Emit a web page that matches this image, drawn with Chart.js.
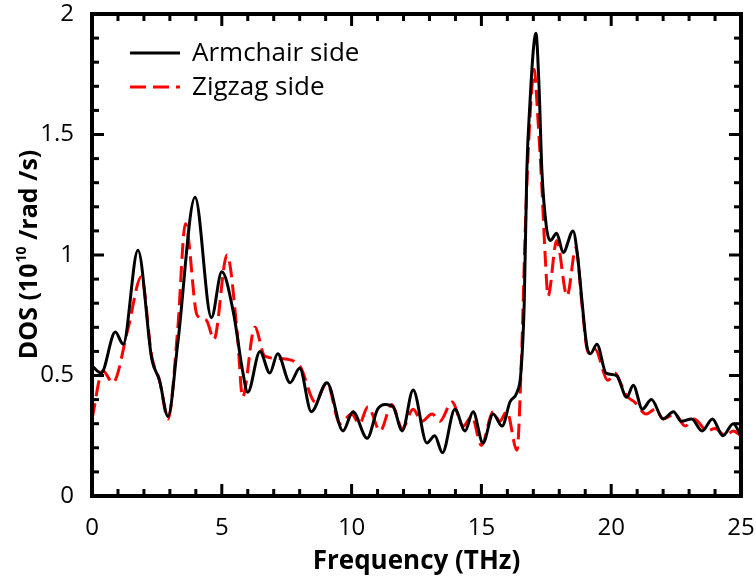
<!DOCTYPE html>
<html>
<head>
<meta charset="utf-8">
<script src="https://cdn.jsdelivr.net/npm/chart.js@4.4.1/dist/chart.umd.min.js"></script>
<style>
  html, body { margin: 0; padding: 0; background: #fff; overflow: hidden; }
  canvas { display: block; }
</style>
</head>
<body>
<canvas id="c" width="756" height="580"></canvas>
<script>
// ---- data ----
const seriesLabels = ["Armchair side", "Zigzag side"];

const armchairFreq = [0, 0.35, 0.9, 1.2, 1.77, 2.3, 2.6, 2.93, 3.3, 3.97, 4.6, 5.0, 5.45, 5.8, 6.0, 6.47, 6.85, 7.15, 7.63, 8.0, 8.45, 9.05, 9.67, 10.05, 10.6, 11.0, 11.3, 11.6, 11.95, 12.37, 12.9, 13.2, 13.5, 13.98, 14.37, 14.68, 15.06, 15.45, 15.8, 16.1, 16.37, 16.52, 16.65, 16.75, 16.87, 17.0, 17.1, 17.22, 17.33, 17.5, 17.65, 17.9, 18.15, 18.53, 18.7, 18.9, 19.05, 19.2, 19.45, 19.8, 20.2, 20.6, 20.85, 21.2, 21.55, 22.0, 22.4, 22.7, 23.1, 23.5, 23.9, 24.3, 24.7, 25];
const armchairDOS  = [0.54, 0.51, 0.68, 0.63, 1.02, 0.57, 0.48, 0.33, 0.63, 1.24, 0.74, 0.93, 0.76, 0.52, 0.43, 0.60, 0.51, 0.59, 0.47, 0.53, 0.35, 0.47, 0.27, 0.35, 0.24, 0.36, 0.38, 0.37, 0.27, 0.44, 0.22, 0.25, 0.18, 0.36, 0.27, 0.35, 0.22, 0.34, 0.29, 0.39, 0.43, 0.51, 0.80, 1.35, 1.63, 1.85, 1.92, 1.70, 1.35, 1.12, 1.06, 1.09, 1.01, 1.10, 1.00, 0.78, 0.63, 0.59, 0.63, 0.51, 0.50, 0.41, 0.46, 0.36, 0.40, 0.32, 0.35, 0.31, 0.32, 0.27, 0.32, 0.25, 0.30, 0.25];

const zigzagFreq = [0, 0.42, 0.8, 1.4, 1.9, 2.3, 2.6, 2.93, 3.3, 3.6, 4.05, 4.4, 4.7, 5.2, 5.6, 5.8, 6.27, 6.66, 7.24, 8.0, 8.6, 9.05, 9.55, 10.0, 10.3, 10.63, 11.1, 11.55, 11.95, 12.37, 12.7, 13.1, 13.4, 13.87, 14.3, 14.63, 15.0, 15.45, 15.7, 15.98, 16.37, 16.55, 16.68, 16.8, 16.95, 17.03, 17.18, 17.33, 17.45, 17.57, 17.9, 18.3, 18.64, 18.87, 19.05, 19.2, 19.37, 19.87, 20.15, 20.4, 20.65, 20.9, 21.35, 21.7, 22.0, 22.45, 22.85, 23.2, 23.7, 24.0, 24.4, 24.7, 25];
const zigzagDOS  = [0.32, 0.52, 0.47, 0.70, 0.91, 0.58, 0.48, 0.32, 0.69, 1.13, 0.75, 0.73, 0.65, 1.00, 0.67, 0.41, 0.70, 0.58, 0.57, 0.54, 0.39, 0.47, 0.30, 0.34, 0.30, 0.37, 0.27, 0.38, 0.28, 0.36, 0.31, 0.34, 0.31, 0.39, 0.29, 0.33, 0.21, 0.35, 0.31, 0.35, 0.19, 0.59, 1.07, 1.42, 1.70, 1.77, 1.56, 1.28, 1.01, 0.83, 1.06, 0.83, 1.03, 0.80, 0.62, 0.59, 0.61, 0.48, 0.51, 0.46, 0.41, 0.39, 0.34, 0.36, 0.32, 0.34, 0.29, 0.32, 0.27, 0.28, 0.25, 0.27, 0.25];

const xTicks = [0, 5, 10, 15, 20, 25];
const yTicks = [0, 0.5, 1, 1.5, 2];
const yTickLabels = ["0", "0.5", "1", "1.5", "2"];
const xTitle = "Frequency (THz)";
const yTitleParts = ["DOS (10", "10", " /rad /s)"];

// ---- chart ----
const FONT = "'Open Sans', 'Noto Sans', sans-serif";
const toPts = (xs, ys) => xs.map((x, i) => ({ x: x, y: ys[i] }));

const framePlugin = {
  id: 'frame',
  afterDraw(chart) {
    const ctx = chart.ctx;
    const a = chart.chartArea;
    const xs = chart.scales.x, ys = chart.scales.y;
    const fw = 4, fh = 2;      // frame width
    const tw = 3, th = 1.5;    // tick width
    ctx.save();
    ctx.setLineDash([]);
    ctx.globalAlpha = 1;
    ctx.fillStyle = '#000000';
    // frame
    ctx.fillRect(a.left - fh, a.top - fh, a.right - a.left + fw, fw);
    ctx.fillRect(a.left - fh, a.bottom - fh, a.right - a.left + fw, fw);
    ctx.fillRect(a.left - fh, a.top - fh, fw, a.bottom - a.top + fw);
    ctx.fillRect(a.right - fh, a.top - fh, fw, a.bottom - a.top + fw);
    // inward ticks on all four sides
    for (let i = 0; i <= 25; i++) {
      const px = xs.getPixelForValue(i);
      const len = (i % 5 === 0) ? 12 : 7;
      ctx.fillRect(px - th, a.bottom - len, tw, len);
      ctx.fillRect(px - th, a.top, tw, len);
    }
    for (let i = 0; i <= 20; i++) {
      const py = ys.getPixelForValue(i / 10);
      const len = (i % 5 === 0) ? 12 : 7;
      ctx.fillRect(a.left, py - th, len, tw);
      ctx.fillRect(a.right - len, py - th, len, tw);
    }

    // legend
    const ds = chart.data.datasets;
    const lx0 = 130, lx1 = 180, ly0 = 53, ldy = 34;
    ctx.font = "26px " + FONT;
    ctx.textBaseline = 'middle';
    ctx.textAlign = 'left';
    ds.forEach((d, i) => {
      const yy = ly0 + i * ldy;
      ctx.beginPath();
      ctx.strokeStyle = d.borderColor;
      ctx.lineWidth = 3;
      ctx.setLineDash(d.borderDash || []);
      ctx.moveTo(lx0, yy); ctx.lineTo(lx1, yy);
      ctx.stroke();
      ctx.setLineDash([]);
      ctx.fillStyle = '#000000';
      ctx.fillText(d.label, 192, yy + 1);
    });

    // y title (rotated, with superscript)
    ctx.save();
    ctx.translate(30, (a.top + a.bottom) / 2);
    ctx.rotate(-Math.PI / 2);
    const big = "bold 25px " + FONT, small = "bold 14px " + FONT;
    ctx.font = big; const w1 = ctx.measureText(yTitleParts[0]).width;
    ctx.font = small; const w2 = ctx.measureText(yTitleParts[1]).width;
    ctx.font = big; const w3 = ctx.measureText(yTitleParts[2]).width;
    let sx = -(w1 + w2 + w3) / 2;
    ctx.fillStyle = '#000000';
    ctx.textBaseline = 'middle';
    ctx.textAlign = 'left';
    ctx.font = big; ctx.fillText(yTitleParts[0], sx, 0); sx += w1;
    ctx.font = small; ctx.fillText(yTitleParts[1], sx + 1, -8); sx += w2 + 1;
    ctx.font = big; ctx.fillText(yTitleParts[2], sx, 0);
    ctx.restore();
    ctx.restore();
  }
};

new Chart(document.getElementById('c'), {
  type: 'line',
  data: {
    datasets: [
      {
        label: seriesLabels[0],
        data: toPts(armchairFreq, armchairDOS),
        borderColor: '#000000',
        borderWidth: 3,
        pointRadius: 0,
        cubicInterpolationMode: 'monotone',
        fill: false
      },
      {
        label: seriesLabels[1],
        data: toPts(zigzagFreq, zigzagDOS),
        borderColor: '#ff0000',
        borderWidth: 3,
        borderDash: [16, 7],
        pointRadius: 0,
        cubicInterpolationMode: 'monotone',
        fill: false
      }
    ]
  },
  options: {
    responsive: false,
    animation: false,
    devicePixelRatio: 1,
    layout: { padding: { left: 0, top: 14, right: 15, bottom: 0 } },
    plugins: { legend: { display: false }, tooltip: { enabled: false } },
    scales: {
      x: {
        type: 'linear', min: 0, max: 25,
        afterBuildTicks: (s) => { s.ticks = xTicks.map(v => ({ value: v })); },
        ticks: { color: '#000', font: { size: 24, family: FONT }, padding: 10, maxRotation: 0, autoSkip: false },
        grid: { display: false }, border: { display: false },
        title: { display: true, text: xTitle, color: '#000', font: { size: 26, weight: 'bold', family: FONT }, padding: { top: 0, bottom: 3 } },
        afterFit: (s) => { s.height = 84; s.paddingLeft = 0; s.paddingRight = 0; }
      },
      y: {
        type: 'linear', min: 0, max: 2,
        afterBuildTicks: (s) => { s.ticks = yTicks.map(v => ({ value: v })); },
        ticks: {
          color: '#000', font: { size: 24, family: FONT }, padding: 10, autoSkip: false,
          callback: (v) => { const k = yTicks.indexOf(v); return k >= 0 ? yTickLabels[k] : ''; }
        },
        grid: { display: false }, border: { display: false },
        afterFit: (s) => { s.width = 92; s.paddingTop = 0; s.paddingBottom = 0; }
      }
    }
  },
  plugins: [framePlugin]
});
</script>
</body>
</html>
